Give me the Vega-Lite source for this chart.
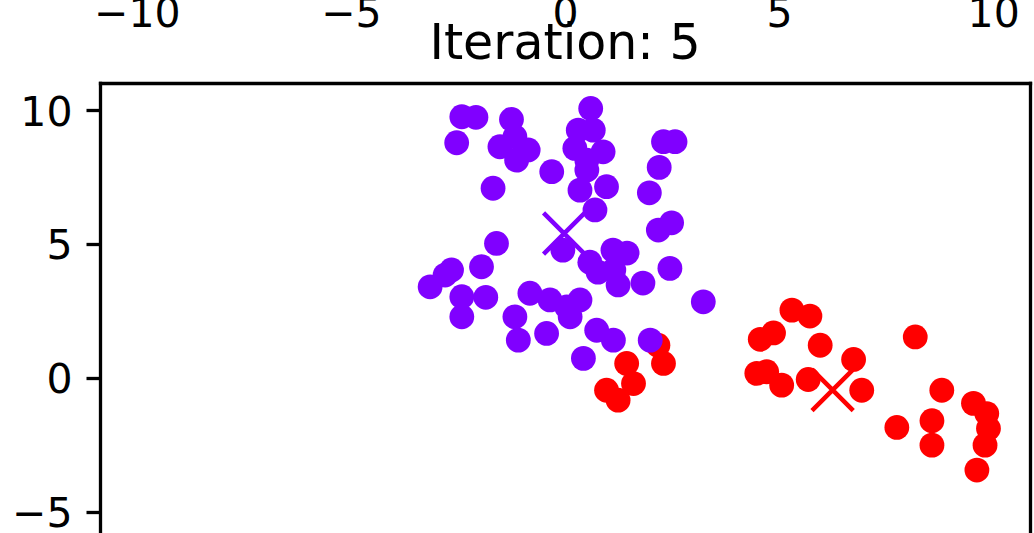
{
  "$schema": "https://vega.github.io/schema/vega-lite/v6.json",
  "width": 930,
  "height": 450,
  "autosize": {"type": "none"},
  "padding": {"left": 100, "top": 83, "right": 4, "bottom": 0},
  "background": "white",
  "config": {"view": {"stroke": null}, "font": "DejaVu Sans"},
  "title": {
    "text": "Iteration: 5",
    "font": "DejaVu Sans",
    "fontSize": 49,
    "fontWeight": "normal",
    "color": "black",
    "anchor": "middle",
    "frame": "group",
    "baseline": "alphabetic",
    "offset": -115
  },
  "datasets": {
    "points": [
      {"x": 2.17, "y": 1.22, "k": "1"},
      {"x": -2.41, "y": 9.75, "k": "0"},
      {"x": -2.08, "y": 9.73, "k": "0"},
      {"x": -2.53, "y": 8.78, "k": "0"},
      {"x": -1.25, "y": 9.65, "k": "0"},
      {"x": -1.52, "y": 8.63, "k": "0"},
      {"x": -1.17, "y": 9.0, "k": "0"},
      {"x": -0.86, "y": 8.51, "k": "0"},
      {"x": -1.13, "y": 8.13, "k": "0"},
      {"x": -0.31, "y": 7.7, "k": "0"},
      {"x": -1.68, "y": 7.08, "k": "0"},
      {"x": 0.6, "y": 10.06, "k": "0"},
      {"x": 0.31, "y": 9.25, "k": "0"},
      {"x": 0.66, "y": 9.25, "k": "0"},
      {"x": 0.23, "y": 8.57, "k": "0"},
      {"x": 0.89, "y": 8.44, "k": "0"},
      {"x": 0.51, "y": 8.13, "k": "0"},
      {"x": 0.51, "y": 7.76, "k": "0"},
      {"x": 0.35, "y": 7.01, "k": "0"},
      {"x": 0.97, "y": 7.14, "k": "0"},
      {"x": 0.7, "y": 6.27, "k": "0"},
      {"x": 2.3, "y": 8.82, "k": "0"},
      {"x": 2.57, "y": 8.82, "k": "0"},
      {"x": 2.2, "y": 7.86, "k": "0"},
      {"x": 1.97, "y": 6.91, "k": "0"},
      {"x": 2.49, "y": 5.79, "k": "0"},
      {"x": 2.18, "y": 5.52, "k": "0"},
      {"x": -1.6, "y": 5.02, "k": "0"},
      {"x": -0.05, "y": 4.77, "k": "0"},
      {"x": 0.58, "y": 4.32, "k": "0"},
      {"x": 0.77, "y": 3.95, "k": "0"},
      {"x": 1.12, "y": 4.77, "k": "0"},
      {"x": 1.45, "y": 4.66, "k": "0"},
      {"x": 1.14, "y": 4.03, "k": "0"},
      {"x": 1.24, "y": 3.47, "k": "0"},
      {"x": 1.82, "y": 3.54, "k": "0"},
      {"x": 2.45, "y": 4.09, "k": "0"},
      {"x": 3.23, "y": 2.84, "k": "0"},
      {"x": -2.65, "y": 4.03, "k": "0"},
      {"x": -1.95, "y": 4.15, "k": "0"},
      {"x": -3.15, "y": 3.4, "k": "0"},
      {"x": -2.41, "y": 3.03, "k": "0"},
      {"x": -1.85, "y": 3.01, "k": "0"},
      {"x": -2.41, "y": 2.28, "k": "0"},
      {"x": -2.8, "y": 3.84, "k": "0"},
      {"x": -0.82, "y": 3.16, "k": "0"},
      {"x": -1.17, "y": 2.28, "k": "0"},
      {"x": -0.35, "y": 2.91, "k": "0"},
      {"x": 0.04, "y": 2.65, "k": "0"},
      {"x": 0.35, "y": 2.91, "k": "0"},
      {"x": 0.12, "y": 2.28, "k": "0"},
      {"x": -0.43, "y": 1.66, "k": "0"},
      {"x": -1.09, "y": 1.41, "k": "0"},
      {"x": 0.74, "y": 1.78, "k": "0"},
      {"x": 1.13, "y": 1.41, "k": "0"},
      {"x": 1.99, "y": 1.41, "k": "0"},
      {"x": 0.43, "y": 0.73, "k": "0"},
      {"x": 1.44, "y": 0.54, "k": "1"},
      {"x": 2.3, "y": 0.54, "k": "1"},
      {"x": 0.97, "y": -0.46, "k": "1"},
      {"x": 1.6, "y": -0.21, "k": "1"},
      {"x": 1.24, "y": -0.83, "k": "1"},
      {"x": 5.3, "y": 2.53, "k": "1"},
      {"x": 5.72, "y": 2.31, "k": "1"},
      {"x": 4.87, "y": 1.68, "k": "1"},
      {"x": 4.56, "y": 1.44, "k": "1"},
      {"x": 5.96, "y": 1.22, "k": "1"},
      {"x": 6.74, "y": 0.69, "k": "1"},
      {"x": 4.48, "y": 0.17, "k": "1"},
      {"x": 4.71, "y": 0.23, "k": "1"},
      {"x": 5.06, "y": -0.27, "k": "1"},
      {"x": 5.68, "y": -0.06, "k": "1"},
      {"x": 6.93, "y": -0.46, "k": "1"},
      {"x": 8.18, "y": 1.53, "k": "1"},
      {"x": 8.8, "y": -0.46, "k": "1"},
      {"x": 7.75, "y": -1.85, "k": "1"},
      {"x": 8.57, "y": -1.6, "k": "1"},
      {"x": 8.57, "y": -2.51, "k": "1"},
      {"x": 9.54, "y": -0.95, "k": "1"},
      {"x": 9.85, "y": -1.33, "k": "1"},
      {"x": 9.89, "y": -1.89, "k": "1"},
      {"x": 9.81, "y": -2.51, "k": "1"},
      {"x": 9.62, "y": -3.44, "k": "1"}
    ],
    "centroids": [
      {"x": -0.02, "y": 5.39, "k": "0"},
      {"x": 6.25, "y": -0.45, "k": "1"}
    ]
  },
  "layer": [
    {
      "data": {"name": "points"},
      "mark": {"type": "circle", "size": 615, "opacity": 1},
      "encoding": {
        "x": {
          "field": "x",
          "type": "quantitative",
          "scale": {"domain": [-10.86, 10.86], "nice": false, "zero": false},
          "axis": {
            "orient": "top",
            "title": null,
            "values": [-10, -5, 0, 5, 10],
            "grid": false,
            "ticks": false,
            "tickSize": 0,
            "domain": true,
            "domainColor": "black",
            "domainWidth": 3.3,
            "domainCap": "square",
            "labelFont": "DejaVu Sans",
            "labelFontSize": 41,
            "labelColor": "black",
            "labelBaseline": "alphabetic",
            "labelPadding": 57,
            "labelFlush": false,
            "labelOverlap": false,
            "labelBound": false
          }
        },
        "y": {
          "field": "y",
          "type": "quantitative",
          "scale": {"domain": [-5.79, 11.01], "nice": false, "zero": false},
          "axis": {
            "orient": "left",
            "title": null,
            "values": [-5, 0, 5, 10],
            "grid": false,
            "ticks": true,
            "tickSize": 14,
            "tickWidth": 3.3,
            "tickColor": "black",
            "domain": true,
            "domainColor": "black",
            "domainWidth": 3.3,
            "domainCap": "square",
            "labelFont": "DejaVu Sans",
            "labelFontSize": 41,
            "labelColor": "black",
            "labelPadding": 14,
            "labelOffset": 3,
            "labelFlush": false,
            "labelOverlap": false,
            "labelBound": false
          }
        },
        "color": {
          "field": "k",
          "type": "nominal",
          "scale": {"domain": ["0", "1"], "range": ["#8000ff", "#ff0000"]},
          "legend": null
        }
      }
    },
    {
      "data": {"name": "centroids"},
      "mark": {
        "type": "point",
        "shape": "M-1,-1L1,1M1,-1L-1,1",
        "filled": false,
        "size": 1700,
        "strokeWidth": 4.5,
        "opacity": 1
      },
      "encoding": {
        "x": {"field": "x", "type": "quantitative"},
        "y": {
          "field": "y",
          "type": "quantitative",
          "axis": {
            "orient": "right",
            "title": null,
            "labels": false,
            "ticks": false,
            "grid": false,
            "domain": true,
            "domainColor": "black",
            "domainWidth": 3.3,
            "domainCap": "square"
          }
        },
        "color": {
          "field": "k",
          "type": "nominal",
          "scale": {"domain": ["0", "1"], "range": ["#8000ff", "#ff0000"]},
          "legend": null
        }
      }
    }
  ],
  "resolve": {"axis": {"y": "independent"}}
}
